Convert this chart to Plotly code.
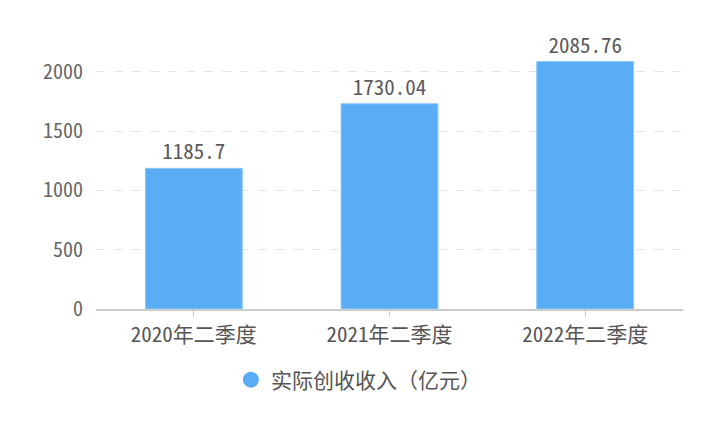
import plotly.graph_objects as go

categories = ["2020年二季度", "2021年二季度", "2022年二季度"]
values = [1185.7, 1730.04, 2085.76]
labels = ["1185.7", "1730.04", "2085.76"]
series_name = "实际创收收入（亿元）"
tick_vals = [0, 500, 1000, 1500, 2000]

color = "#5aadf5"
font = "Noto Sans Mono CJK SC, Noto Sans CJK SC, sans-serif"

fig = go.Figure()
fig.add_trace(go.Bar(
    x=categories, y=values, text=labels, textposition="outside",
    textfont=dict(size=21, color="#5a5a5a", family=font),
    marker=dict(color=color, line=dict(color="#8cc6f8", width=1)),
    showlegend=False, cliponaxis=False, width=0.495,
))
fig.add_trace(go.Scatter(
    x=[None], y=[None], mode="markers", name=series_name,
    marker=dict(symbol="circle", size=16, color=color),
))
fig.update_layout(
    width=720, height=432,
    margin=dict(l=88, r=45, t=40, b=131),
    plot_bgcolor="white", paper_bgcolor="white",
    font=dict(family=font, color="#666666", size=20),
    legend=dict(orientation="h", x=0.447, xanchor="center", y=-0.272, yanchor="middle",
                font=dict(size=21, color="#555555"), itemsizing="trace"),
    xaxis=dict(showline=True, linecolor="#cccccc", linewidth=2, ticks="outside",
               tickcolor="#cccccc", ticklen=6, tickfont=dict(size=21, color="#555555"),
               showgrid=False),
    yaxis=dict(range=[0, 2200], tickvals=tick_vals, showgrid=True, gridcolor="#e6e6e6",
               griddash="dash", zeroline=False, showline=False, ticks="",
               tickfont=dict(size=20, color="#666666"), ticklabelstandoff=12),
)
fig.write_html("out.html")
